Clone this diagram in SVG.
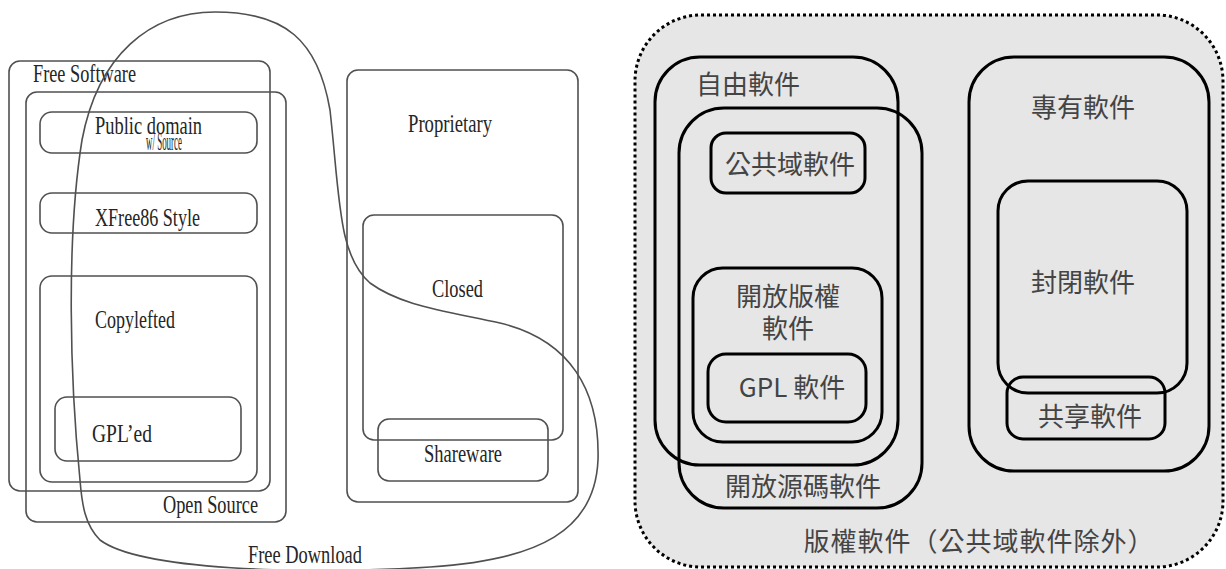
<svg xmlns="http://www.w3.org/2000/svg" width="1226" height="569" viewBox="0 0 1226 569">
<style>
.l{fill:none;stroke:#505050;stroke-width:1.6}
.lt{font-family:"Liberation Serif",serif;fill:#252525;font-size:25px}
.r{fill:none;stroke:#000;stroke-width:3}
.rt{font-family:"Noto Sans CJK TC","Noto Sans",sans-serif;fill:#444;font-size:26px;text-anchor:middle}
</style>
<rect width="1226" height="569" fill="#fff"/>
<g id="free-software"><rect class="l" x="9" y="61" width="261" height="430" rx="11"/><text class="lt" x="33" y="82" font-size="21" textLength="103" lengthAdjust="spacingAndGlyphs">Free Software</text></g>
<g id="open-source"><rect class="l" x="26" y="92" width="260" height="430" rx="11"/><text class="lt" x="163" y="513" textLength="95" lengthAdjust="spacingAndGlyphs">Open Source</text></g>
<g id="public-domain"><rect class="l" x="40" y="112" width="217" height="41" rx="12"/><text class="lt" x="95" y="134" textLength="107" lengthAdjust="spacingAndGlyphs">Public domain</text><text class="lt" x="146" y="150" font-size="8" textLength="36" lengthAdjust="spacingAndGlyphs">w/ Source</text></g>
<g id="xfree86"><rect class="l" x="40" y="193" width="217" height="40" rx="12"/><text class="lt" x="95" y="226" textLength="105" lengthAdjust="spacingAndGlyphs">XFree86 Style</text></g>
<g id="copylefted"><rect class="l" x="40" y="276" width="217" height="206" rx="12"/><text class="lt" x="95" y="328" font-size="24" textLength="80" lengthAdjust="spacingAndGlyphs">Copylefted</text></g>
<g id="gpled"><rect class="l" x="55" y="397" width="186" height="64" rx="12"/><text class="lt" x="92" y="442" font-size="24" textLength="60" lengthAdjust="spacingAndGlyphs">GPL’ed</text></g>
<g id="proprietary"><rect class="l" x="347" y="70" width="231" height="432" rx="11"/><text class="lt" x="408" y="132" textLength="84" lengthAdjust="spacingAndGlyphs">Proprietary</text></g>
<g id="closed"><rect class="l" x="363" y="215" width="200" height="225" rx="11"/><text class="lt" x="432" y="297" textLength="51" lengthAdjust="spacingAndGlyphs">Closed</text></g>
<g id="shareware"><rect class="l" x="378" y="419" width="170" height="62" rx="11"/><text class="lt" x="424" y="462" textLength="78" lengthAdjust="spacingAndGlyphs">Shareware</text></g>
<g id="free-download"><path class="l" stroke-width="1.3" d="M80,480 C70,380 66,240 82,140 C98,55 150,12 215,12 C285,12 318,40 330,110 C340,200 338,255 370,283 C400,305 440,310 500,323 C570,340 600,390 598,460 C595,530 540,560 430,567 C300,575 140,570 100,540 C85,525 82,505 80,480 Z"/><text class="lt" x="248" y="563" font-size="23" textLength="114" lengthAdjust="spacingAndGlyphs">Free Download</text></g>

<g id="copyright-software"><rect x="635" y="15" width="588" height="552" rx="66" fill="#e6e6e6" stroke="#000" stroke-width="3" stroke-dasharray="3 3"/><text class="rt" x="979" y="551" letter-spacing="1">版權軟件（公共域軟件除外）</text></g>
<g id="ziyou"><rect class="r" x="655" y="57" width="243" height="408" rx="45"/><text class="rt" x="748" y="94">自由軟件</text></g>
<g id="kaifang-yuanma"><rect class="r" x="679" y="108" width="243" height="400" rx="45"/><text class="rt" x="803" y="496">開放源碼軟件</text></g>
<g id="gonggongyu"><rect class="r" x="711" y="133" width="154" height="60" rx="15" fill="#fff"/><text class="rt" x="790" y="174">公共域軟件</text></g>
<g id="kaifang-banquan"><rect class="r" x="693" y="268" width="189" height="174" rx="30"/><text class="rt" x="788" y="306" font-size="25">開放版權</text><text class="rt" x="788" y="338" font-size="25">軟件</text></g>
<g id="gpl"><rect class="r" x="708" y="354" width="158" height="68" rx="18"/><text class="rt" x="792" y="397">GPL 軟件</text></g>
<g id="zhuanyou"><rect class="r" x="969" y="57" width="240" height="414" rx="45"/><text class="rt" x="1083" y="117">專有軟件</text></g>
<g id="fengbi"><rect class="r" x="998" y="181" width="189" height="212" rx="30"/><text class="rt" x="1083" y="292">封閉軟件</text></g>
<g id="gongxiang"><rect class="r" x="1007" y="377" width="158" height="62" rx="16"/><text class="rt" x="1090" y="426">共享軟件</text></g>
<g id="connectors"></g>
</svg>
